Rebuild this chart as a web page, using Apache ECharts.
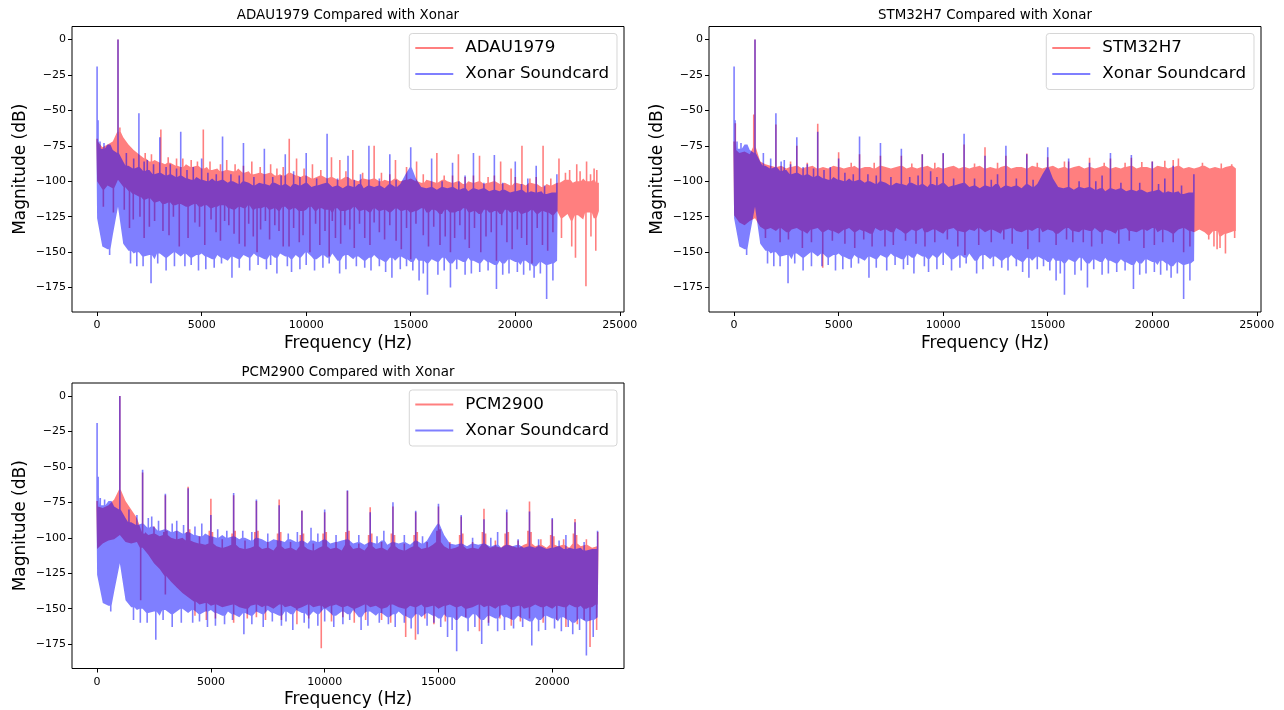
<!DOCTYPE html>
<html>
<head>
<meta charset="utf-8">
<script src="https://cdn.jsdelivr.net/npm/echarts@6.0.0/dist/echarts.min.js"></script>
<style>html,body{margin:0;padding:0;background:#fff}#c{width:1284px;height:710px}</style>
</head>
<body>
<div id="c"></div>
<script>
// ---------------- DATA (frequency grid step in Hz; envelopes in dB) ----------------
const STEP = 250;

// Xonar Soundcard (same recording in all three panels), 0..22000 Hz
const xonarHi = [
  -70,-77,-74,-78,-80,-86,-89,-91,-90,-93,-92,-95,
  -94,-96,-95,-97,-96,-98,-99,-97,-99,-100,-98,-100,
  -99,-101,-100,-102,-100,-101,-103,-101,-102,-103,-101,-103,
  -102,-104,-102,-103,-101,-104,-103,-102,-101,-104,-103,-105,
  -103,-104,-102,-105,-103,-104,-103,-105,-102,-104,-102,-95,
  -90,-98,-104,-105,-104,-106,-104,-105,-104,-106,-105,-107,
  -105,-106,-105,-107,-106,-107,-106,-108,-107,-106,-108,-107,
  -108,-107,-109,-108,-108
];
const xonarLo = [
  -126,-146,-148,-138,-118,-144,-149,-151,-150,-153,-152,-155,
  -151,-154,-152,-150,-153,-151,-154,-152,-151,-153,-155,-152,
  -154,-156,-153,-155,-152,-154,-151,-153,-155,-152,-154,-151,
  -153,-155,-152,-154,-150,-153,-155,-152,-154,-151,-156,-153,
  -152,-155,-153,-156,-154,-152,-155,-157,-154,-156,-153,-155,
  -157,-154,-156,-158,-155,-157,-154,-156,-158,-155,-157,-154,
  -156,-158,-155,-157,-159,-156,-158,-155,-157,-159,-156,-158,
  -160,-157,-159,-158,-156
];
const xonarUp = [[0,-19],[45,-57],[140,-72],[330,-73],[600,-74],[1000,0],[1400,-80],[1750,-84],[2000,-52],[2250,-86],[2400,-85],[2700,-88],[3000,-69],[3300,-90],[3500,-88],[3800,-91],[4000,-65],[4300,-92],[4600,-90],[5000,-84],[5300,-94],[5700,-95],[6000,-68.5],[6400,-95],[6800,-96],[7000,-73],[7500,-97],[8000,-77],[8400,-97],[8800,-96],[9000,-81],[9400,-93],[9700,-97],[10000,-80],[10500,-98],[11000,-66.5],[11500,-98],[12000,-82],[12300,-99],[12600,-95],[13000,-75],[13500,-98],[14000,-81],[14300,-99],[15000,-76],[16000,-84],[16500,-100],[17000,-87],[17300,-100],[17600,-96],[18000,-80],[18500,-101],[19000,-81.5],[19400,-101],[20000,-86],[20300,-102],[20600,-98],[21000,-89],[21400,-103],[21990,-95]];
const xonarDown = [[600,-152],[1600,-158],[1900,-160],[2200,-160],[2580,-172],[2900,-158],[3300,-163],[3700,-160],[4200,-160],[4500,-159],[4850,-163],[5200,-162],[5600,-161],[5950,-158],[6450,-168],[6800,-161],[7300,-163],[7700,-159],[8100,-162],[8300,-159],[8600,-165],[9100,-160],[9300,-164],[9700,-162],[10000,-159],[10400,-163],[10800,-161],[11100,-158],[11600,-165],[11900,-162],[12400,-160],[12800,-161],[13100,-163],[13500,-160],[13800,-164],[14100,-168],[14500,-162],[14800,-160],[15100,-163],[15400,-170],[15600,-165],[15800,-180],[16300,-166],[16600,-163],[16900,-175],[17200,-162],[17600,-166],[17900,-165],[18300,-164],[18700,-163],[19100,-176],[19400,-166],[19700,-165],[20100,-164],[20400,-166],[20700,-163],[20900,-168],[21200,-165],[21500,-183],[21800,-170]];

// ADAU1979, 0..24000 Hz
const adauHi = [
  -72,-76,-74,-72,-65,-69,-74,-78,-81,-84,-86,-85,
  -87,-88,-87,-89,-90,-88,-90,-89,-91,-90,-92,-91,
  -93,-92,-93,-91,-94,-93,-95,-94,-95,-94,-96,-95,
  -96,-94,-96,-97,-96,-98,-97,-96,-98,-97,-99,-98,
  -97,-99,-100,-98,-99,-98,-100,-99,-100,-98,-100,-99,
  -98,-100,-101,-99,-100,-101,-99,-100,-101,-100,-102,-100,
  -101,-100,-102,-101,-100,-102,-101,-103,-101,-102,-103,-101,
  -102,-104,-102,-103,-101,-100,-99,-101,-100,-98,-100,-99,
  -101
];
const adauLo = [
  -100,-106,-103,-105,-99,-104,-107,-109,-111,-113,-112,-115,
  -114,-116,-115,-117,-116,-118,-117,-116,-118,-117,-119,-118,
  -117,-119,-120,-118,-119,-117,-120,-119,-118,-120,-119,-121,
  -118,-120,-119,-121,-120,-118,-121,-119,-120,-122,-119,-121,
  -120,-118,-121,-120,-122,-119,-121,-120,-122,-119,-121,-120,
  -122,-121,-119,-122,-120,-121,-123,-120,-122,-121,-119,-122,
  -121,-123,-120,-122,-121,-123,-120,-122,-121,-123,-122,-120,
  -123,-121,-122,-124,-121,-126,-123,-128,-124,-127,-122,-126,
  -121
];
const adauUp = [[0,-70],[1000,0],[1090,-62],[2300,-80],[2600,-81],[3050,-63.5],[3400,-83],[3800,-84],[4100,-84],[4500,-85],[4800,-86],[5080,-63.5],[5400,-86],[5900,-88],[6200,-85],[6600,-88],[7000,-89],[7400,-86],[7800,-90],[8300,-88],[8600,-91],[8900,-90],[9190,-70],[9540,-84],[9900,-91],[10300,-88],[10700,-92],[11210,-83],[11610,-85],[11900,-93],[12230,-78],[12700,-94],[13250,-75],[13600,-94],[14000,-95],[14270,-85],[14800,-90],[15280,-86],[15600,-95],[16250,-80],[16600,-96],[17000,-96],[17280,-81],[17600,-97],[18000,-96],[18290,-82],[18700,-97],[19000,-96],[19300,-86],[19800,-91],[20000,-97],[20320,-75],[20700,-98],[21000,-97],[21330,-75],[21700,-98],[22090,-84],[22400,-94],[22600,-92],[22940,-88],[23100,-93],[23410,-86],[23600,-95],[23770,-91],[23900,-92]];
const adauDown = [[300,-118],[780,-122],[1300,-120],[1550,-133],[1730,-127],[2050,-125],[2250,-140],[2500,-132],[2750,-128],[3150,-135],[3440,-138],[3650,-125],[3930,-146],[4350,-140],[4680,-129],[4900,-132],[5150,-145],[5450,-127],[5690,-136],[5900,-142],[6100,-128],[6300,-131],[6550,-137],[6800,-144],[7070,-146],[7250,-130],[7470,-139],[7650,-150],[7820,-134],[8050,-128],[8250,-141],[8500,-131],[8700,-135],[8900,-146],[9180,-146],[9400,-133],[9670,-143],[9850,-138],[10180,-150],[10450,-130],[10650,-145],[10900,-135],[11100,-153],[11250,-128],[11400,-140],[11650,-144],[11850,-131],[12090,-134],[12300,-147],[12550,-130],[12800,-140],[13050,-145],[13250,-129],[13500,-136],[13750,-141],[14000,-131],[14300,-142],[14550,-148],[14800,-133],[15000,-155],[15250,-130],[15600,-138],[15850,-146],[16100,-132],[16400,-145],[16650,-139],[16900,-150],[17100,-140],[17350,-131],[17600,-141],[17800,-147],[18050,-133],[18350,-150],[18600,-139],[18850,-136],[19100,-156],[19350,-131],[19600,-143],[19850,-148],[20100,-134],[20300,-140],[20550,-145],[20800,-158],[21050,-133],[21300,-145],[21550,-149],[21800,-136],[22210,-140],[22700,-146],[22880,-154],[23380,-174],[23620,-139],[23850,-149]];

// STM32H7, 0..24000 Hz
const stmHi = [
  -78,-80,-79,-81,-76,-86,-88,-89,-90,-89,-91,-90,
  -89,-91,-90,-89,-91,-90,-91,-89,-90,-91,-90,-89,
  -91,-90,-90,-91,-89,-90,-91,-90,-89,-91,-90,-91,
  -90,-89,-91,-90,-91,-90,-89,-91,-90,-91,-90,-89,
  -91,-90,-91,-90,-89,-91,-90,-90,-91,-89,-90,-91,
  -90,-89,-91,-90,-91,-90,-89,-91,-90,-91,-90,-89,
  -91,-90,-91,-90,-89,-91,-90,-90,-91,-89,-90,-91,
  -90,-89,-91,-90,-91,-90,-89,-91,-90,-91,-90,-89,
  -91
];
const stmLo = [
  -124,-129,-131,-128,-126,-132,-134,-133,-135,-133,-136,-134,
  -133,-135,-137,-134,-133,-136,-134,-135,-137,-134,-133,-136,
  -134,-135,-137,-133,-135,-134,-136,-133,-135,-137,-134,-135,
  -133,-136,-134,-135,-137,-134,-133,-135,-136,-134,-135,-133,
  -136,-134,-135,-137,-134,-133,-135,-136,-134,-135,-133,-136,
  -134,-135,-137,-134,-133,-135,-136,-134,-135,-133,-136,-134,
  -135,-137,-134,-133,-135,-136,-134,-135,-133,-136,-134,-135,
  -137,-134,-133,-135,-136,-134,-136,-138,-135,-139,-137,-136,
  -135
];
const stmUp = [[0,-72],[60,-59],[940,-53],[1000,0],[2000,-60],[2700,-86],[3000,-75],[3500,-87],[4000,-59.5],[5000,-79.5],[5600,-87],[6000,-81],[6700,-87],[7000,-82],[8000,-82],[8500,-87.5],[9000,-81],[9600,-87],[10000,-80.5],[11000,-74],[11500,-87.5],[12000,-76],[12600,-87],[13000,-82],[14000,-80.5],[14500,-87],[15000,-83],[15800,-86],[16000,-86],[17000,-83.5],[17700,-87],[18000,-84],[18700,-87],[19000,-83.5],[19500,-86.5],[20000,-86],[20600,-85.5],[21000,-85],[21250,-84],[22400,-87],[23300,-87.5],[23800,-88]];
const stmDown = [[1500,-140],[2200,-143],[2600,-141],[3266,-147],[3700,-143],[4240,-161],[4700,-142],[5300,-144],[5770,-147],[6200,-141],[6600,-146],[7216,-146],[7615,-145],[8200,-142],[8700,-144],[9130,-146],[9600,-143],[10200,-141],[10700,-146],[11040,-152],[11700,-145],[12300,-143],[12900,-141],[13300,-144],[14050,-148],[14600,-143],[15400,-145],[15900,-141],[16200,-143],[16700,-143],[17100,-146],[17600,-144],[18400,-144],[18900,-142],[19600,-147],[20100,-145],[20500,-143],[21000,-143],[21500,-150],[21800,-146],[22700,-141],[22950,-146],[23100,-148],[23240,-147],[23500,-151],[23940,-140]];

// PCM2900, 0..22000 Hz
const pcmHi = [
  -78,-79,-77,-73,-66,-74,-80,-86,-96,-98,-97,-99,
  -98,-100,-101,-100,-102,-103,-104,-105,-104,-106,-107,-106,
  -105,-107,-108,-107,-106,-108,-107,-109,-106,-108,-107,-109,
  -106,-108,-109,-107,-106,-108,-107,-109,-105,-108,-107,-109,
  -106,-108,-107,-109,-106,-108,-109,-107,-106,-108,-107,-105,
  -103,-106,-108,-107,-106,-108,-107,-108,-105,-107,-106,-107,
  -105,-106,-107,-105,-104,-106,-105,-107,-105,-106,-105,-107,
  -104,-106,-105,-107,-106
];
const pcmLo = [
  -108,-104,-102,-101,-98,-103,-104,-103,-107,-112,-118,-122,
  -127,-131,-135,-139,-142,-145,-147,-146,-148,-147,-149,-148,
  -147,-149,-150,-148,-147,-149,-148,-150,-147,-149,-148,-150,
  -149,-147,-149,-148,-150,-148,-147,-149,-148,-150,-149,-147,
  -149,-148,-150,-149,-147,-149,-150,-148,-149,-147,-149,-148,
  -150,-148,-147,-149,-148,-150,-149,-147,-149,-148,-150,-148,
  -147,-149,-148,-150,-149,-147,-149,-148,-150,-148,-149,-147,
  -149,-148,-150,-149,-147
];
const pcmUp = [[0,-74],[1000,0],[2000,-54],[2070,-97],[2500,-92],[2930,-96],[3000,-70],[3070,-95],[3500,-95],[3930,-96],[4000,-64],[4070,-94],[4500,-99],[4930,-95],[5000,-72.5],[5070,-96],[5500,-101],[5930,-97],[6000,-70],[6070,-95],[6500,-102],[6930,-96],[7000,-74],[7070,-95],[7500,-103],[7930,-97],[8000,-73],[8070,-96],[8500,-103],[8930,-98],[9000,-80.7],[9070,-97],[9500,-104],[9930,-97],[10000,-82],[10070,-96],[10500,-103],[10930,-96],[11000,-67],[11070,-95],[11500,-104],[11930,-98],[12000,-78.4],[12070,-97],[12500,-103],[12930,-97],[13000,-78],[13070,-98],[13500,-104],[13930,-98],[14000,-82],[14070,-96],[14500,-103],[14930,-95],[15000,-78],[15070,-94],[15500,-103],[15930,-98],[16000,-85],[16070,-97],[16500,-103],[16930,-96],[17000,-79.6],[17070,-97],[17500,-102],[17930,-97],[18000,-82],[18070,-96],[18500,-102],[18930,-95],[19000,-74.4],[19070,-96],[19500,-101],[19930,-98],[20000,-87],[20070,-99],[20500,-101],[20930,-97],[21000,-86.8],[21070,-98],[21500,-101],[22000,-96]];
const pcmDown = [[1915,-144],[3000,-140],[4300,-155],[4800,-158],[5200,-157],[6000,-160],[6600,-157],[7000,-156],[7400,-158],[8100,-158],[8780,-161],[9300,-157],[9850,-178],[10300,-159],[10800,-156],[11300,-160],[11800,-158],[12500,-158],[12900,-160],[13560,-170],[13990,-172],[14400,-157],[14800,-161],[15300,-159],[15800,-158],[16200,-156],[16800,-166],[17200,-160],[17700,-157],[18200,-162],[18600,-159],[19000,-157],[19600,-160],[20200,-158],[20600,-163],[21100,-161],[21400,-158],[21660,-177],[21950,-165]];

// Axis ticks and texts
const xTicksWide = [0, 5000, 10000, 15000, 20000, 25000];
const xTicksNarrow = [0, 5000, 10000, 15000, 20000];
const yTicks = [0, -25, -50, -75, -100, -125, -150, -175];
const panelTitles = ['ADAU1979 Compared with Xonar', 'STM32H7 Compared with Xonar', 'PCM2900 Compared with Xonar'];
const deviceNames = ['ADAU1979', 'STM32H7', 'PCM2900'];
const refName = 'Xonar Soundcard';

// ---------------- CHART ----------------
const FONT = 'DejaVu Sans';
const RED = 'rgba(255,0,0,0.5)';
const BLUE = 'rgba(0,0,255,0.5)';

function bandRenderer(hi, lo, up, down, color) {
  return function (params, api) {
    if (params.dataIndex !== 0) return null;
    const HW = 0.8;
    const n = hi.length;
    function edge(vals, spikes) {
      const sp = spikes.map(function (s) {
        const idx = Math.max(0, Math.min(n - 1, Math.round(s[0] / STEP)));
        const a = api.coord([s[0], vals[idx]]);
        const b = api.coord([s[0], s[1]]);
        return {k: a[0], pts: [[a[0] - HW, a[1]], [a[0] - HW, b[1]], [a[0] + HW, b[1]], [a[0] + HW, a[1]]]};
      });
      const groups = sp.slice();
      vals.forEach(function (v, i) {
        const p = api.coord([i * STEP, v]);
        if (!sp.some(function (s) { return Math.abs(s.k - p[0]) <= HW + 0.3; })) groups.push({k: p[0], pts: [p]});
      });
      groups.sort(function (a, b) { return a.k - b.k; });
      const out = [];
      groups.forEach(function (g) { g.pts.forEach(function (p) { out.push(p); }); });
      return out;
    }
    const top = edge(hi, up);
    const bottom = edge(lo, down).reverse();
    return {type: 'polygon', silent: true, shape: {points: top.concat(bottom)}, style: {fill: color}};
  };
}

const grids = [
  {left: 72, top: 26.5, width: 552, height: 285.5},
  {left: 709, top: 26.5, width: 552, height: 285.5},
  {left: 72, top: 383, width: 552, height: 285.5}
];
const xRanges = [[-1200, 25200], [-1200, 25200], [-1102.5, 23152.5]];
const xTickSets = [xTicksWide, xTicksWide, xTicksNarrow];
const yRange = [-192.2, 9.15];

const tickStyle = {show: true, inside: false, length: 4, lineStyle: {color: '#000', width: 1}};

const option = {
  animation: false,
  backgroundColor: '#fff',
  title: grids.map(function (g, i) {
    return {text: panelTitles[i], left: g.left + g.width / 2, top: g.top - 17, textAlign: 'center', padding: 0,
      textStyle: {fontFamily: FONT, fontSize: 13.4, fontWeight: 'normal', color: '#000'}};
  }),
  grid: grids.map(function (g) {
    return Object.assign({show: true, borderColor: '#000', borderWidth: 1, backgroundColor: 'transparent'}, g);
  }),
  xAxis: grids.map(function (g, i) {
    return {type: 'value', gridIndex: i, min: xRanges[i][0], max: xRanges[i][1],
      name: 'Frequency (Hz)', nameLocation: 'middle', nameGap: 23,
      nameTextStyle: {fontFamily: FONT, fontSize: 17, color: '#000'},
      axisLine: {show: false, onZero: false}, splitLine: {show: false},
      axisTick: Object.assign({customValues: xTickSets[i]}, tickStyle),
      axisLabel: {customValues: xTickSets[i], fontFamily: FONT, fontSize: 11, color: '#000', margin: 8,
        formatter: function (v) { return String(v); }}};
  }),
  yAxis: grids.map(function (g, i) {
    return {type: 'value', gridIndex: i, min: yRange[0], max: yRange[1],
      name: 'Magnitude (dB)', nameLocation: 'middle', nameGap: 43, nameRotate: 90,
      nameTextStyle: {fontFamily: FONT, fontSize: 17, color: '#000'},
      axisLine: {show: false, onZero: false}, splitLine: {show: false},
      axisTick: Object.assign({customValues: yTicks}, tickStyle),
      axisLabel: {customValues: yTicks, fontFamily: FONT, fontSize: 11, color: '#000', margin: 6,
        formatter: function (v) { return v < 0 ? '\u2212' + (-v) : String(v); }}};
  }),
  legend: grids.map(function (g, i) {
    return {orient: 'vertical', align: 'left', right: 1284 - (g.left + g.width) + 7, top: g.top + 7,
      itemWidth: 38, itemHeight: 2, itemGap: 9, icon: 'rect', selectedMode: false,
      padding: [6, 8, 7, 6], backgroundColor: 'rgba(255,255,255,0.8)',
      borderColor: 'rgba(204,204,204,0.8)', borderWidth: 1, borderRadius: 3,
      textStyle: {fontFamily: FONT, fontSize: 16.7, color: '#000', padding: [0, 0, 0, 7]},
      data: [{name: deviceNames[i], itemStyle: {color: RED}}, {name: refName, itemStyle: {color: BLUE}}]};
  }),
  series: [
    {type: 'custom', name: deviceNames[0], xAxisIndex: 0, yAxisIndex: 0, data: [[0, 0]], clip: true, silent: true,
      itemStyle: {color: RED}, renderItem: bandRenderer(adauHi, adauLo, adauUp, adauDown, RED)},
    {type: 'custom', name: refName, xAxisIndex: 0, yAxisIndex: 0, data: [[0, 0]], clip: true, silent: true,
      itemStyle: {color: BLUE}, renderItem: bandRenderer(xonarHi, xonarLo, xonarUp, xonarDown, BLUE)},
    {type: 'custom', name: deviceNames[1], xAxisIndex: 1, yAxisIndex: 1, data: [[0, 0]], clip: true, silent: true,
      itemStyle: {color: RED}, renderItem: bandRenderer(stmHi, stmLo, stmUp, stmDown, RED)},
    {type: 'custom', name: refName, xAxisIndex: 1, yAxisIndex: 1, data: [[0, 0]], clip: true, silent: true,
      itemStyle: {color: BLUE}, renderItem: bandRenderer(xonarHi, xonarLo, xonarUp, xonarDown, BLUE)},
    {type: 'custom', name: deviceNames[2], xAxisIndex: 2, yAxisIndex: 2, data: [[0, 0]], clip: true, silent: true,
      itemStyle: {color: RED}, renderItem: bandRenderer(pcmHi, pcmLo, pcmUp, pcmDown, RED)},
    {type: 'custom', name: refName, xAxisIndex: 2, yAxisIndex: 2, data: [[0, 0]], clip: true, silent: true,
      itemStyle: {color: BLUE}, renderItem: bandRenderer(xonarHi, xonarLo, xonarUp, xonarDown, BLUE)}
  ]
};

const chart = echarts.init(document.getElementById('c'), null, {renderer: 'canvas'});
chart.setOption(option);
</script>
</body>
</html>
